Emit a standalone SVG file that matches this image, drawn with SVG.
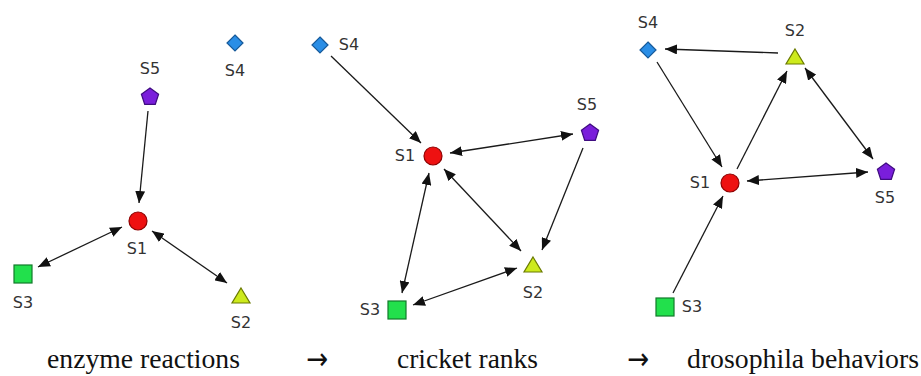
<svg xmlns="http://www.w3.org/2000/svg" width="921" height="376" viewBox="0 0 921 376">
  <style>
    .edge { stroke: #1a1a1a; stroke-width: 1.3; fill: none; }
    .one { marker-end: url(#tip); }
    .two { marker-start: url(#tip); marker-end: url(#tip); }
    .lbl { font-family: "DejaVu Sans", Verdana, sans-serif; font-size: 16px; fill: #333; text-anchor: middle; }
    .cap { font-family: "Liberation Serif", "Times New Roman", serif; font-size: 28px; fill: #111; }
    .arr { font-family: "DejaVu Sans", sans-serif; font-size: 30px; fill: #111; }
    .circ { fill: #ee1111; stroke: #8e0000; stroke-width: 1.2; }
    .sq { fill: #22e04c; stroke: #127a2a; stroke-width: 1.2; }
    .tri { fill: #cdea1c; stroke: #6a7a00; stroke-width: 1.2; }
    .pent { fill: #7a1edb; stroke: #3f0c80; stroke-width: 1.2; }
    .dia { fill: #2a8ee6; stroke: #175a9a; stroke-width: 1.2; }
  </style>
  <defs>
    <marker id="tip" viewBox="0 0 12 10" refX="12" refY="5" markerWidth="12" markerHeight="10" markerUnits="userSpaceOnUse" orient="auto-start-reverse">
      <path d="M0,0 L12,5 L0,10 Z" fill="#111"/>
    </marker>
    <circle id="c" r="9"/>
    <rect id="s" x="-9" y="-9" width="18" height="18"/>
    <path id="t" d="M0,-8 L9,7 L-9,7 Z"/>
    <path id="p" d="M0,-9 L8.6,-2.8 L5.3,7.3 L-5.3,7.3 L-8.6,-2.8 Z"/>
    <path id="d" d="M0,-8 L8,0 L0,8 L-8,0 Z"/>
  </defs>
  <rect width="921" height="376" fill="#ffffff"/>

  <!-- connectors -->
  <g id="connectors">
    <!-- enzyme reactions -->
    <path class="edge one" d="M148,111 L139,203"/>
    <path class="edge two" d="M122,227 L38,267"/>
    <path class="edge two" d="M152,231 L227,283"/>
    <!-- cricket ranks -->
    <path class="edge one" d="M331,56 L421,143"/>
    <path class="edge two" d="M450,153 L573,134"/>
    <path class="edge one" d="M583,148 L542,250"/>
    <path class="edge two" d="M444,169 L521,251"/>
    <path class="edge two" d="M429,173 L402,293"/>
    <path class="edge two" d="M413,305 L517,268"/>
    <!-- drosophila behaviors -->
    <path class="edge one" d="M778,53 L665,49"/>
    <path class="edge one" d="M657,62 L722,167"/>
    <path class="edge one" d="M737,169 L787,71"/>
    <path class="edge two" d="M805,68 L873,159"/>
    <path class="edge two" d="M747,181 L868,172"/>
    <path class="edge one" d="M673,293 L723,196"/>
  </g>

  <!-- enzyme reactions -->
  <g id="a-S1"><use href="#c" class="circ" x="138" y="221"/><text class="lbl" x="137" y="254">S1</text></g>
  <g id="a-S2"><use href="#t" class="tri" x="241" y="296"/><text class="lbl" x="241" y="328">S2</text></g>
  <g id="a-S3"><use href="#s" class="sq" x="23" y="274"/><text class="lbl" x="23" y="308">S3</text></g>
  <g id="a-S4"><use href="#d" class="dia" x="235" y="43"/><text class="lbl" x="235" y="76">S4</text></g>
  <g id="a-S5"><use href="#p" class="pent" x="150" y="97"/><text class="lbl" x="150" y="74">S5</text></g>

  <!-- cricket ranks -->
  <g id="b-S1"><use href="#c" class="circ" x="433" y="156"/><text class="lbl" x="405" y="161">S1</text></g>
  <g id="b-S2"><use href="#t" class="tri" x="533" y="265"/><text class="lbl" x="533" y="298">S2</text></g>
  <g id="b-S3"><use href="#s" class="sq" x="397" y="310"/><text class="lbl" x="370" y="315">S3</text></g>
  <g id="b-S4"><use href="#d" class="dia" x="320" y="45"/><text class="lbl" x="349" y="50">S4</text></g>
  <g id="b-S5"><use href="#p" class="pent" x="590" y="133"/><text class="lbl" x="587" y="110">S5</text></g>

  <!-- drosophila behaviors -->
  <g id="c-S1"><use href="#c" class="circ" x="730" y="183"/><text class="lbl" x="700" y="188">S1</text></g>
  <g id="c-S2"><use href="#t" class="tri" x="795" y="57"/><text class="lbl" x="795" y="36">S2</text></g>
  <g id="c-S3"><use href="#s" class="sq" x="665" y="307"/><text class="lbl" x="692" y="312">S3</text></g>
  <g id="c-S4"><use href="#d" class="dia" x="648" y="50"/><text class="lbl" x="648" y="28">S4</text></g>
  <g id="c-S5"><use href="#p" class="pent" x="886" y="172"/><text class="lbl" x="885" y="203">S5</text></g>

  <!-- captions -->
  <g id="captions">
    <text class="cap" x="47" y="368" textLength="193" lengthAdjust="spacingAndGlyphs">enzyme reactions</text>
    <text class="arr" x="306" y="369" textLength="22" lengthAdjust="spacingAndGlyphs">→</text>
    <text class="cap" x="397" y="368" textLength="141" lengthAdjust="spacingAndGlyphs">cricket ranks</text>
    <text class="arr" x="627" y="369" textLength="22" lengthAdjust="spacingAndGlyphs">→</text>
    <text class="cap" x="687" y="368" textLength="232" lengthAdjust="spacingAndGlyphs">drosophila behaviors</text>
  </g>
</svg>
